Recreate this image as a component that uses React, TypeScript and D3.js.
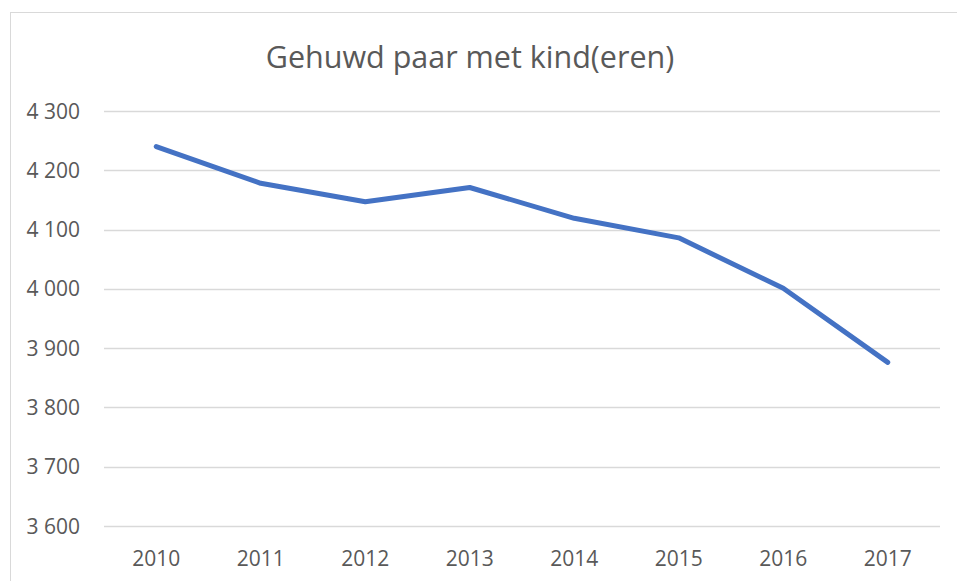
import React, { useRef, useEffect } from 'react';
import * as d3 from 'd3';

const years = ['2010', '2011', '2012', '2013', '2014', '2015', '2016', '2017'];
const counts = [4240, 4178, 4147, 4171, 4119, 4086, 4001, 3876];
const yTicks = [3600, 3700, 3800, 3900, 4000, 4100, 4200, 4300];
const title = 'Gehuwd paar met kind(eren)';

const width = 957;
const height = 581;

const fmt = (v: number) => d3.format(',')(v).replace(',', ' ');

const App = () => {
  const ref = useRef<SVGSVGElement>(null);

  useEffect(() => {
    const svg = d3.select(ref.current);
    svg.selectAll('*').remove();

    const font = "'Open Sans', 'Noto Sans', sans-serif";
    const textColor = '#595959';

    // chart border, runs past the right and bottom edges
    svg.append('rect')
      .attr('x', 10.5)
      .attr('y', 12.5)
      .attr('width', 1000)
      .attr('height', 1000)
      .attr('fill', '#fff')
      .attr('stroke', '#d9d9d9')
      .attr('stroke-width', 1);

    const x = d3.scaleBand()
      .domain(years)
      .range([104, 940]);

    const y = d3.scaleLinear()
      .domain([3600, 4300])
      .range([526, 111]);

    svg.append('text')
      .attr('x', 470)
      .attr('y', 68)
      .attr('text-anchor', 'middle')
      .attr('font-family', font)
      .attr('font-size', 30.5)
      .attr('fill', textColor)
      .text(title);

    const grid = svg.append('g');
    grid.selectAll('line')
      .data(yTicks)
      .join('line')
      .attr('x1', 104)
      .attr('x2', 940)
      .attr('y1', d => Math.round(y(d)) + 0.5)
      .attr('y2', d => Math.round(y(d)) + 0.5)
      .attr('stroke', '#d9d9d9')
      .attr('stroke-width', 1.5);

    svg.append('g')
      .selectAll('text')
      .data(yTicks)
      .join('text')
      .attr('x', 80)
      .attr('y', d => y(d))
      .attr('dy', '0.36em')
      .attr('text-anchor', 'end')
      .attr('font-family', font)
      .attr('font-size', 21)
      .attr('fill', textColor)
      .text(d => fmt(d));

    svg.append('g')
      .selectAll('text')
      .data(years)
      .join('text')
      .attr('x', d => (x(d) as number) + x.bandwidth() / 2)
      .attr('y', 566)
      .attr('text-anchor', 'middle')
      .attr('font-family', font)
      .attr('font-size', 21)
      .attr('fill', textColor)
      .text(d => d);

    const line = d3.line<number>()
      .x((d, i) => (x(years[i]) as number) + x.bandwidth() / 2)
      .y(d => y(d));

    svg.append('path')
      .datum(counts)
      .attr('fill', 'none')
      .attr('stroke', '#4472c4')
      .attr('stroke-width', 5)
      .attr('stroke-linecap', 'round')
      .attr('stroke-linejoin', 'round')
      .attr('d', line);
  }, []);

  return (
    <div style={{ position: 'absolute', left: 0, top: 0 }}>
      <svg ref={ref} width={width} height={height} style={{ display: 'block' }}></svg>
    </div>
  );
};

export default App;
